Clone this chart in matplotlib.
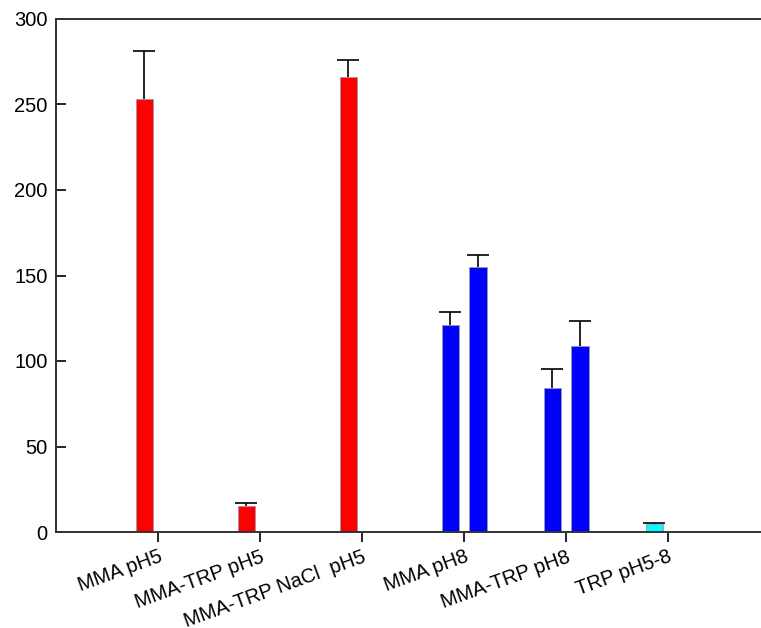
import numpy as np
import matplotlib.pyplot as plt

plt.rcParams['font.family'] = ['Liberation Sans', 'DejaVu Sans']

labels = ['MMA pH5', 'MMA-TRP pH5', 'MMA-TRP NaCl  pH5', 'MMA pH8', 'MMA-TRP pH8', 'TRP pH5-8']
vals1 = [253, 15, 266, 121, 84.5, 4.5]
err1 = [28.5, 1.7, 10.3, 7.8, 10.8, 0.6]
vals2 = [np.nan, np.nan, np.nan, 155, 109, np.nan]
err2 = [np.nan, np.nan, np.nan, 7, 14.4, np.nan]
colors1 = ['red', 'red', 'red', 'blue', 'blue', 'cyan']
colors2 = ['red', 'red', 'red', 'blue', 'blue', 'cyan']

fig = plt.figure(figsize=(7.61, 6.28), dpi=100)
ax = fig.add_axes([56/761, 96/628, 1 - 56/761, (532-19)/628])

x = np.arange(len(labels))
w = 0.17
off = 0.135
for pos, v, e, c in [(x - off, vals1, err1, colors1), (x + off, vals2, err2, colors2)]:
    ax.bar(pos, v, w, color=c, edgecolor='#9999aa', linewidth=0.6, zorder=2)
    eb = ax.errorbar(pos, v, yerr=[np.zeros(6), e], fmt='none', ecolor='black',
                     elinewidth=1.2, capsize=8, capthick=1.2, zorder=1)
    eb.lines[1][0].set_visible(False)  # hide lower caps

ax.set_xlim(-1, 5.91)
ax.set_ylim(0, 300)
ax.set_yticks([0, 50, 100, 150, 200, 250, 300])
ax.set_xticks(x)
ax.set_xticklabels(labels, rotation=20, ha='right', rotation_mode='anchor')
ax.tick_params(axis='y', direction='in', length=7, width=1.2, labelsize=14.5, pad=6)
ax.tick_params(axis='x', direction='out', length=7, width=1.2, labelsize=14.5, pad=4)
for s in ['left', 'bottom', 'top']:
    ax.spines[s].set_linewidth(1.4)
    ax.spines[s].set_color('#333333')
ax.spines['right'].set_visible(False)

fig.savefig('out.png', dpi=100)
